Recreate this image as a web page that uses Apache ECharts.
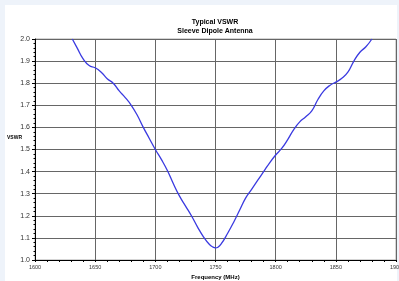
<!DOCTYPE html>
<html>
<head>
<meta charset="utf-8">
<script src="https://cdn.jsdelivr.net/npm/echarts@6/dist/echarts.min.js"></script>
<style>
html,body{margin:0;padding:0;background:#eef3fa;}
#main{width:399px;height:281px;}
</style>
</head>
<body>
<div id="main"></div>
<script>
var freq = [1631,1635,1640,1645,1650,1655,1660,1665,1670,1675,1680,1685,1690,1695,1700,1705,1710,1715,1720,1725,1730,1735,1740,1745,1748,1750,1752,1755,1760,1765,1770,1775,1780,1785,1790,1795,1800,1805,1810,1815,1820,1825,1830,1835,1840,1845,1850,1855,1860,1865,1870,1875,1880];
var vswr = [2.0,1.96,1.91,1.88,1.87,1.85,1.82,1.80,1.765,1.735,1.70,1.655,1.60,1.55,1.50,1.455,1.405,1.345,1.29,1.245,1.20,1.15,1.105,1.07,1.058,1.055,1.058,1.075,1.12,1.17,1.225,1.28,1.32,1.36,1.40,1.44,1.475,1.505,1.545,1.59,1.625,1.648,1.675,1.725,1.765,1.79,1.805,1.822,1.85,1.90,1.94,1.965,2.0];

var points = [];
for (var i = 0; i < freq.length; i++) {
    points.push([freq[i], vswr[i]]);
}

var chart = echarts.init(document.getElementById('main'));
var option = {
    backgroundColor: '#eef3fa',
    animation: false,
    graphic: [{
        type: 'rect',
        z: -10,
        shape: {x: 5, y: 5, width: 392, height: 276},
        style: {fill: '#ffffff'}
    }, {
        // y axis title sits above the middle, so placed by hand
        type: 'text',
        left: 7,
        top: 135,
        style: {
            text: 'VSWR',
            fontFamily: 'Liberation Sans',
            fontSize: 5,
            fontWeight: 'bold',
            fill: '#000'
        }
    }],
    title: {
        text: 'Typical VSWR\nSleeve Dipole Antenna',
        left: 210,
        top: 13,
        textAlign: 'center',
        textStyle: {
            fontFamily: 'Liberation Sans',
            fontSize: 7,
            fontWeight: 'bold',
            color: '#000',
            lineHeight: 9
        }
    },
    grid: {
        left: 35,
        right: 3,
        top: 39,
        bottom: 21,
        outerBoundsMode: 'none',
        containLabel: false,
        show: true,
        borderColor: '#aaaaaa',
        borderWidth: 1
    },
    xAxis: {
        type: 'value',
        min: 1600,
        max: 1900,
        interval: 50,
        name: 'Frequency (MHz)',
        nameLocation: 'middle',
        nameGap: 14,
        nameMoveOverlap: false,
        nameTextStyle: {fontFamily: 'Liberation Sans', fontSize: 6, fontWeight: 'bold', color: '#000'},
        axisLine: {lineStyle: {color: '#000', width: 1}},
        axisTick: {show: true, length: 2, lineStyle: {color: '#000'}},
        minorTick: {show: true, splitNumber: 5, length: 2, lineStyle: {color: '#000'}},
        axisLabel: {
            fontFamily: 'Liberation Sans', fontSize: 5.5, color: '#333', margin: 4,
            formatter: function (v) { return String(v); }
        },
        splitLine: {show: true, lineStyle: {color: '#666', width: 1}}
    },
    yAxis: {
        type: 'value',
        min: 1.0,
        max: 2.0,
        interval: 0.1,
        axisLine: {show: true, lineStyle: {color: '#000', width: 1}},
        axisTick: {show: true, length: 3, lineStyle: {color: '#000'}},
        minorTick: {show: true, splitNumber: 5, length: 1.5, lineStyle: {color: '#000'}},
        axisLabel: {
            fontFamily: 'Liberation Sans', fontSize: 7, color: '#333', margin: 5,
            formatter: function (v) { return v.toFixed(1); }
        },
        splitLine: {show: true, lineStyle: {color: '#666', width: 1}}
    },
    series: [{
        type: 'line',
        data: points,
        smooth: true,
        showSymbol: false,
        lineStyle: {color: '#3a3ae0', width: 1.3}
    }]
};
chart.setOption(option);
</script>
</body>
</html>
